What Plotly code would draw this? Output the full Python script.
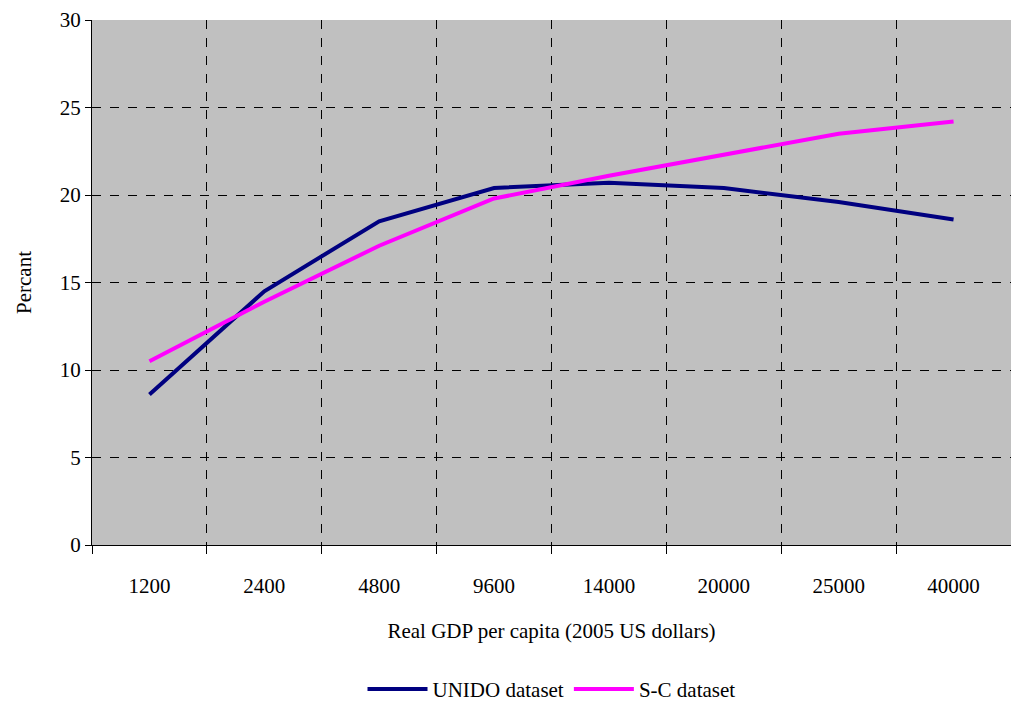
import plotly.graph_objects as go

categories = ["1200", "2400", "4800", "9600", "14000", "20000", "25000", "40000"]
unido = [8.6, 14.5, 18.5, 20.4, 20.7, 20.4, 19.6, 18.6]
sc = [10.5, 13.9, 17.1, 19.8, 21.1, 22.3, 23.5, 24.2]

fig = go.Figure()
fig.add_trace(go.Scatter(x=categories, y=unido, mode="lines", name="UNIDO dataset",
                         line=dict(color="#000080", width=4)))
fig.add_trace(go.Scatter(x=categories, y=sc, mode="lines", name="S-C dataset",
                         line=dict(color="#ff00ff", width=4)))
font = dict(family="Liberation Serif", size=21, color="black")
fig.update_layout(
    width=1003, height=695, font=font,
    margin=dict(l=84, r=0, t=12, b=158, autoexpand=False),
    plot_bgcolor="#c0c0c0", paper_bgcolor="white",
    legend=dict(orientation="h", x=0.5, xanchor="center", y=-0.275, yanchor="middle",
                font=font, itemwidth=60),
    xaxis=dict(type="category", tickson="boundaries", showgrid=True,
               gridcolor="black", griddash="dash", gridwidth=1, automargin=False,
               ticks="outside", ticklen=8, tickcolor="black", tickfont=font,
               showline=True, linecolor="black", ticklabelstandoff=22,
               range=[-0.5, 7.5],
               title=dict(text="Real GDP per capita (2005 US dollars)", standoff=26, font=font)),
    yaxis=dict(range=[0, 30], dtick=5, showgrid=True, gridcolor="black",
               griddash="dash", gridwidth=1, ticks="outside", ticklen=6,
               tickcolor="black", tickfont=font, automargin=False,
               ticklabeloverflow="allow",
               showline=True, linecolor="black",
               zeroline=False, title=dict(text="Percant", standoff=22, font=font)),
)
fig.write_html("out.html")
